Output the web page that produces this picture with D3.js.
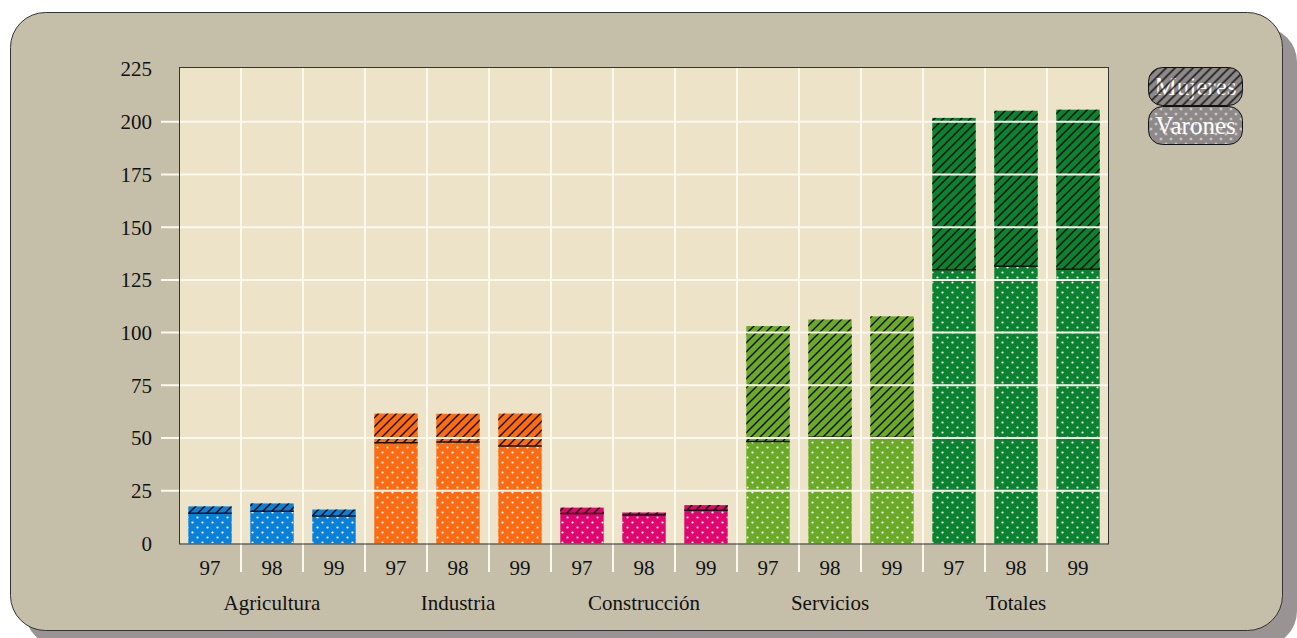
<!DOCTYPE html>
<html>
<head>
<meta charset="utf-8">
<script src="https://d3js.org/d3.v7.min.js"></script>
<style>
  body { margin: 0; background: #ffffff; }
  text { font-family: "Liberation Serif", serif; }
</style>
</head>
<body>
<script>
// the data
var sectors = ["Agricultura", "Industria", "Construcción", "Servicios", "Totales"];
var years = ["97", "98", "99"];
var sectorColors = ["#0a80d8", "#fb6b14", "#df066d", "#6aaa28", "#0a822f"];
var varones = [14.1, 15.0, 12.8, 47.5, 47.9, 46.0, 14.0, 13.3, 15.5, 48.1, 50.2, 50.0, 129.6, 131.2, 129.8];
var mujeres = [3.5, 4.0, 3.3, 14.1, 13.6, 15.6, 3.0, 1.4, 2.7, 55.0, 56.0, 57.7, 72.2, 74.0, 75.9];
var yTicks = [0, 25, 50, 75, 100, 125, 150, 175, 200, 225];
var legendLabels = ["Mujeres", "Varones"];

// build one row per bar
var data = [];
sectors.forEach(function(s, i) {
	years.forEach(function(y, j) {
		var k = i * years.length + j;
		data.push({key: s + y, sector: s, year: y, color: sectorColors[i], v: varones[k], m: mujeres[k]});
	});
});

// dimensions
var W = 1297, H = 638;
var plot = {left: 179, right: 1109, top: 67, bottom: 543.5};

var svg = d3.select("body").append("svg")
			.attr("width", W)
			.attr("height", H);

var defs = svg.append("defs");

// diagonal hatch for mujeres
var hatch = defs.append("pattern")
	.attr("id", "hatch")
	.attr("patternUnits", "userSpaceOnUse")
	.attr("width", 9).attr("height", 9);
hatch.append("path")
	.attr("d", "M-2,2 L2,-2 M0,9 L9,0 M7,11 L11,7")
	.attr("stroke", "#000")
	.attr("stroke-width", 1.3);

// dots for varones
var dots = defs.append("pattern")
	.attr("id", "dots")
	.attr("patternUnits", "userSpaceOnUse")
	.attr("width", 10).attr("height", 10);
dots.append("circle").attr("cx", 2.5).attr("cy", 2.5).attr("r", 1.1).attr("fill", "#fff");
dots.append("circle").attr("cx", 7.5).attr("cy", 7.5).attr("r", 1.1).attr("fill", "#fff");

// background panel with shadow
svg.append("rect")
   .attr("x", 25).attr("y", 27)
   .attr("width", 1272).attr("height", 619)
   .attr("rx", 35)
   .attr("fill", "#9a9393");
svg.append("rect")
   .attr("x", 10.5).attr("y", 12.5)
   .attr("width", 1272).attr("height", 618)
   .attr("rx", 35)
   .attr("fill", "#c5bfaa")
   .attr("stroke", "#333")
   .attr("stroke-width", 1);

// scales
var x = d3.scaleBand()
		  .domain(data.map(function(d) { return d.key; }))
		  .range([plot.left, plot.right])
		  .paddingInner(0.3)
		  .paddingOuter(0.15);
var y = d3.scaleLinear().domain([0, 225]).range([plot.bottom, 69]);

// plot area
svg.append("rect")
   .attr("x", plot.left).attr("y", plot.top)
   .attr("width", plot.right - plot.left).attr("height", plot.bottom - plot.top)
   .attr("fill", "#ede3c8");

// vertical separators between bars
var gap = x.step() - x.bandwidth();
svg.selectAll(".sep")
   .data(data.slice(1))
   .enter().append("line")
   .attr("class", "sep")
   .attr("x1", function(d) { return x(d.key) - gap / 2; })
   .attr("x2", function(d) { return x(d.key) - gap / 2; })
   .attr("y1", plot.top)
   .attr("y2", 572)
   .attr("stroke", "#fbf8ee")
   .attr("stroke-width", 2);

// bars
var bars = svg.selectAll(".bar")
			  .data(data)
			  .enter().append("g")
			  .attr("class", "bar");

bars.append("rect")
	.attr("x", function(d) { return x(d.key); })
	.attr("y", function(d) { return y(d.v); })
	.attr("width", x.bandwidth())
	.attr("height", function(d) { return y(0) - y(d.v); })
	.attr("fill", function(d) { return d.color; });
bars.append("rect")
	.attr("x", function(d) { return x(d.key); })
	.attr("y", function(d) { return y(d.v); })
	.attr("width", x.bandwidth())
	.attr("height", function(d) { return y(0) - y(d.v); })
	.attr("fill", "url(#dots)");
bars.append("rect")
	.attr("x", function(d) { return x(d.key); })
	.attr("y", function(d) { return y(d.v + d.m); })
	.attr("width", x.bandwidth())
	.attr("height", function(d) { return y(d.v) - y(d.v + d.m); })
	.attr("fill", function(d) { return d.color; });
bars.append("rect")
	.attr("x", function(d) { return x(d.key); })
	.attr("y", function(d) { return y(d.v + d.m); })
	.attr("width", x.bandwidth())
	.attr("height", function(d) { return y(d.v) - y(d.v + d.m); })
	.attr("fill", "url(#hatch)");
bars.append("line")
	.attr("x1", function(d) { return x(d.key); })
	.attr("x2", function(d) { return x(d.key) + x.bandwidth(); })
	.attr("y1", function(d) { return y(d.v) - 0.5; })
	.attr("y2", function(d) { return y(d.v) - 0.5; })
	.attr("stroke", "#111")
	.attr("stroke-width", 1.5);

// horizontal grid lines, drawn over the bars
svg.selectAll(".grid")
   .data(yTicks.slice(1, -1))
   .enter().append("line")
   .attr("class", "grid")
   .attr("x1", 161)
   .attr("x2", plot.right)
   .attr("y1", function(d) { return y(d); })
   .attr("y2", function(d) { return y(d); })
   .attr("stroke", "#fbf8ee")
   .attr("stroke-width", 2);

// plot frame
svg.append("rect")
   .attr("x", plot.left + 0.5).attr("y", plot.top + 0.5)
   .attr("width", plot.right - plot.left - 1).attr("height", plot.bottom - plot.top)
   .attr("fill", "none")
   .attr("stroke", "#333")
   .attr("stroke-width", 1);

// y labels
svg.selectAll(".ylab")
   .data(yTicks)
   .enter().append("text")
   .attr("class", "ylab")
   .attr("x", 152)
   .attr("y", function(d) { return y(d); })
   .attr("dy", "0.35em")
   .attr("text-anchor", "end")
   .attr("font-size", 21)
   .attr("fill", "#111")
   .text(function(d) { return d; });

// year labels
svg.selectAll(".xlab")
   .data(data)
   .enter().append("text")
   .attr("class", "xlab")
   .attr("x", function(d) { return x(d.key) + x.bandwidth() / 2; })
   .attr("y", 575)
   .attr("text-anchor", "middle")
   .attr("font-size", 21)
   .attr("fill", "#111")
   .text(function(d) { return d.year; });

// sector labels
svg.selectAll(".glab")
   .data(sectors)
   .enter().append("text")
   .attr("class", "glab")
   .attr("x", function(s) {
		return (x(s + years[0]) + x(s + years[years.length - 1]) + x.bandwidth()) / 2;
   })
   .attr("y", 610)
   .attr("text-anchor", "middle")
   .attr("font-size", 21)
   .attr("fill", "#111")
   .text(function(s) { return s; });

// legend
var legend = svg.selectAll(".legend")
				.data(legendLabels)
				.enter().append("g")
				.attr("class", "legend")
				.attr("transform", function(d, i) { return "translate(1148.5," + (67.5 + i * 39) + ")"; });
legend.append("rect")
	  .attr("width", 94).attr("height", 38)
	  .attr("rx", 14)
	  .attr("fill", "#8e8989");
legend.append("text")
	  .attr("x", 47).attr("y", 19)
	  .attr("dy", "0.35em")
	  .attr("text-anchor", "middle")
	  .attr("font-size", 25)
	  .attr("fill", "#fff")
	  .text(function(d) { return d; });
legend.append("rect")
	  .attr("width", 94).attr("height", 38)
	  .attr("rx", 14)
	  .attr("fill", function(d, i) { return i === 0 ? "url(#hatch)" : "url(#dots)"; })
	  .attr("stroke", "#111")
	  .attr("stroke-width", 1);
</script>
</body>
</html>
